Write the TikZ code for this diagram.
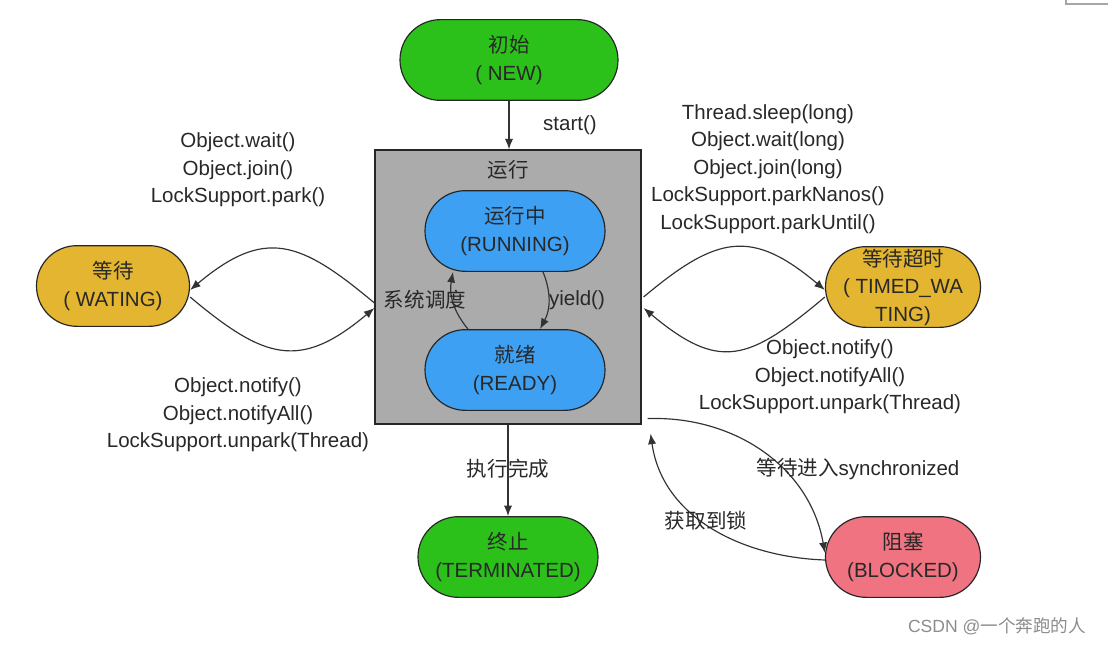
\documentclass[tikz,border=0pt]{standalone}
\usepackage{fontspec}
\setmainfont{Liberation Sans}
\newfontfamily\zh{Noto Sans CJK SC}
\usetikzlibrary{shapes.misc}
\usetikzlibrary{arrows.meta}
\usetikzlibrary{calc}

\definecolor{stgreen}{RGB}{43,193,26}
\definecolor{stblue}{RGB}{62,160,243}
\definecolor{styellow}{RGB}{227,181,48}
\definecolor{stpink}{RGB}{239,115,128}
\definecolor{boxgray}{RGB}{171,171,171}
\definecolor{txtgray}{RGB}{40,40,40}

\tikzset{
  state/.style={rounded rectangle,draw=black!85,line width=1pt,minimum height=2.42cm,align=center,inner sep=0pt,text=txtgray},
  arr/.style={draw=black!80,line width=1pt,-{Latex[length=9pt,width=7pt]}},
  lbl/.style={align=center,text=txtgray}
}

\begin{document}
\begin{tikzpicture}[x=0.03cm,y=-0.03cm,font=\fontsize{17.5}{23.5}\selectfont]
\useasboundingbox (0,0) rectangle (1108,646);
\draw (508,287) node (runbox) [rectangle,draw=black!85,line width=1pt,fill=boxgray,minimum width=7.98cm,minimum height=8.22cm] {};
\draw (508,170) node (runtitle) [lbl] {\zh 运行};
\draw (509,60) node (new) [state,fill=stgreen,minimum width=6.54cm] {\zh 初始\\( NEW)};
\draw (515,231) node (running) [state,fill=stblue,minimum width=5.4cm] {\zh 运行中\\(RUNNING)};
\draw (515,370) node (ready) [state,fill=stblue,minimum width=5.4cm] {\zh 就绪\\(READY)};
\draw (113,286) node (waiting) [state,fill=styellow,minimum width=4.59cm] {\zh 等待\\( WATING)};
\draw (903,287) node (timed) [state,fill=styellow,minimum width=4.65cm] {\zh 等待超时\\\makebox[0pt]{( TIMED\_WA}\\TING)};
\draw (508,557) node (term) [state,fill=stgreen,minimum width=5.4cm] {\zh 终止\\(TERMINATED)};
\draw (903,557) node (blocked) [state,fill=stpink,minimum width=4.65cm] {\zh 阻塞\\(BLOCKED)};

% new -> running
\draw[arr] (new.south) -- (new.south |- runbox.north);
\draw (570,125) node (lstart) [lbl] {start()};

% inside the box
\draw[arr] ($(running.south)+(28,0)$) to[bend left=25] ($(ready.north)+(25,0)$);
\draw (577,300) node (lyield) [lbl] {yield()};
\draw[arr] ($(ready.north)+(-47,0)$) to[bend left=25] ($(running.south)+(-62,0)$);
\draw (425,300) node (lsched) [lbl] {\zh 系统调度};

% waiting
\draw[arr] ($(runbox.west)+(0,16)$) to[out=140,in=40,looseness=1.35] ($(waiting.east)+(0,4)$);
\draw[arr] ($(waiting.east)+(0,11)$) to[out=-40,in=-140,looseness=1.35] ($(runbox.west)+(0,21)$);
\draw (238,170) node (lwait) [lbl] {Object.wait()\\Object.join()\\LockSupport.park()};
\draw (238,415) node (lnotify) [lbl] {Object.notify()\\Object.notifyAll()\\LockSupport.unpark(Thread)};

% timed waiting
\draw[arr] ($(runbox.east)+(2,10)$) to[out=40,in=140,looseness=1.35] ($(timed.west)+(0,3)$);
\draw[arr] ($(timed.west)+(0,10)$) to[out=-140,in=-40,looseness=1.4] ($(runbox.east)+(2,21)$);
\draw (768,169) node (lsleep) [lbl] {Thread.sleep(long)\\Object.wait(long)\\Object.join(long)\\LockSupport.parkNanos()\\LockSupport.parkUntil()};
\draw (830,377) node (ltnotify) [lbl] {Object.notify()\\Object.notifyAll()\\LockSupport.unpark(Thread)};

% terminated
\draw[arr] (runbox.south) -- (term.north);
\draw (508,469) node (ldone) [lbl] {\zh 执行完成};

% blocked
\draw[arr] ($(runbox.south east)+(6,-6)$) to[out=2,in=100] ($(blocked.west)+(0,-4)$);
\draw[arr] ($(blocked.west)+(0,3)$) to[out=178,in=-82] ($(runbox.south east)+(9,9)$);
\draw (858,469) node (lsync) [lbl] {{\zh 等待进入}synchronized};
\draw (706,521) node (llock) [lbl] {\zh 获取到锁};

% watermark and corner
\draw (997,626) node (mark) [text=black!45,font=\fontsize{15}{18}\selectfont] {CSDN @{\zh 一个奔跑的人}};
\draw[black!35,line width=1pt] (1066,0) -- (1066,4) -- (1108,4);
\end{tikzpicture}
\end{document}
